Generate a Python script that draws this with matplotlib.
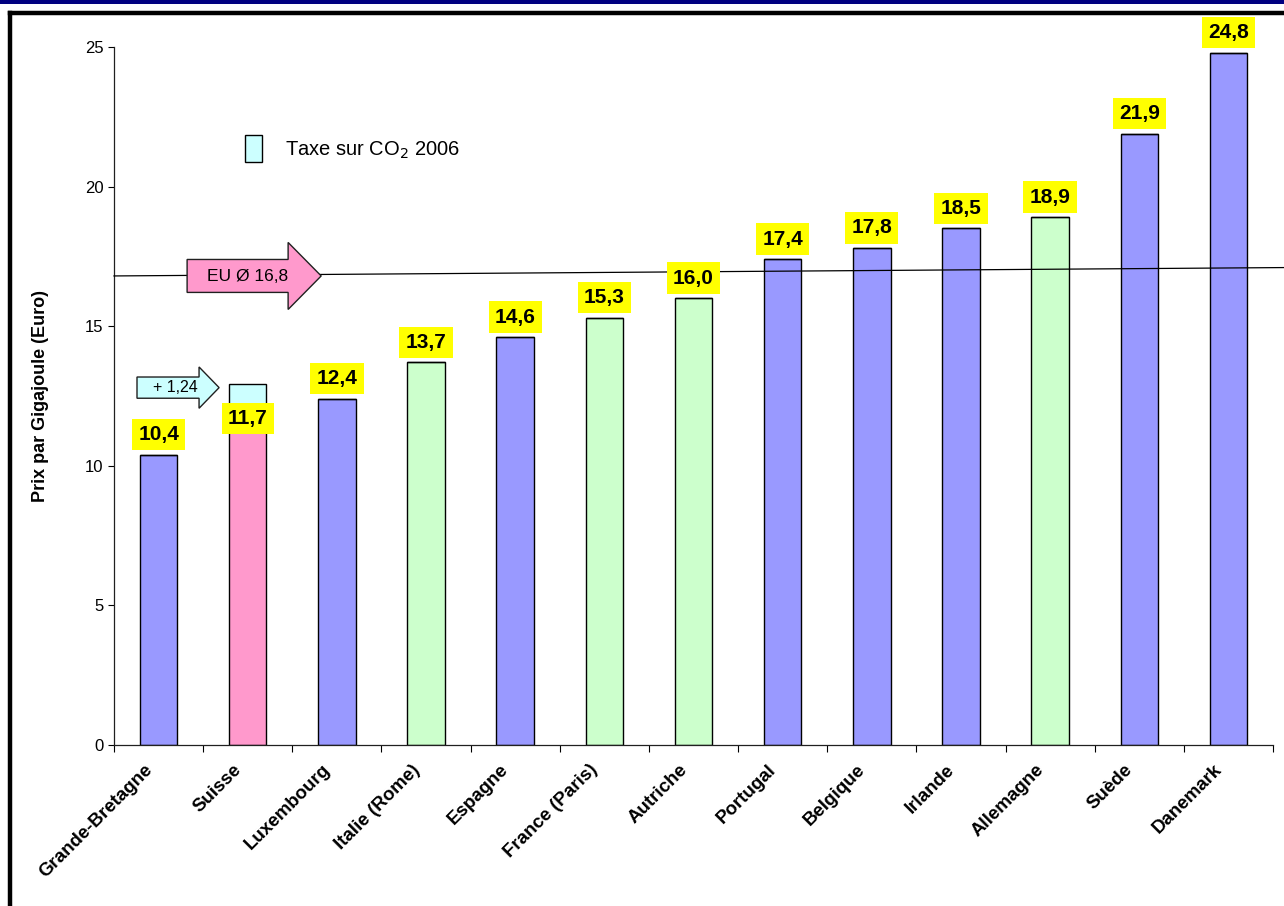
import matplotlib
matplotlib.use("Agg")
import matplotlib.pyplot as plt
from matplotlib.patches import Polygon, Rectangle
from matplotlib.transforms import ScaledTranslation
import numpy as np

plt.rcParams['font.family'] = ['Liberation Sans', 'DejaVu Sans']

# Prix du gaz naturel par pays (Euro par Gigajoule)
countries = ["Grande-Bretagne", "Suisse", "Luxembourg", "Italie (Rome)", "Espagne",
             "France (Paris)", "Autriche", "Portugal", "Belgique", "Irlande",
             "Allemagne", "Suède", "Danemark"]
prices = [10.4, 11.7, 12.4, 13.7, 14.6, 15.3, 16.0, 17.4, 17.8, 18.5, 18.9, 21.9, 24.8]
groups = ["blue", "pink", "blue", "green", "blue", "green", "green", "blue", "blue",
          "blue", "green", "blue", "blue"]
co2_tax = [0, 1.24, 0, 0, 0, 0, 0, 0, 0, 0, 0, 0, 0]
eu_mean = 16.8
eu_line = [16.8, 17.1]   # trend line from left to right edge
y_ticks = [0, 5, 10, 15, 20, 25]

palette = {"blue": "#9999FF", "pink": "#FF99CC", "green": "#CCFFCC"}
tax_color = "#CCFFFF"
label_bg = "#FFFF00"

fig = plt.figure(figsize=(12.84, 9.06), dpi=100)

# slide header band and frame
fig.patches.append(Rectangle((0, 1 - 4 / 906), 1, 4 / 906, transform=fig.transFigure,
                             facecolor="#000080", edgecolor="none", zorder=0))
fig.add_artist(plt.Line2D([10 / 1284, 10 / 1284], [0, 1 - 12.5 / 906], color="black",
                          lw=3.2, transform=fig.transFigure))
fig.add_artist(plt.Line2D([10 / 1284, 1], [1 - 12.5 / 906, 1 - 12.5 / 906], color="black",
                          lw=3.2, transform=fig.transFigure))

ax = fig.add_axes([114 / 1284, 1 - 745 / 906, (1273 - 114) / 1284, (745 - 47) / 906])
x = np.arange(len(countries))
colors = [palette[g] for g in groups]
bw = 0.42
ax.bar(x, prices, width=bw, color=colors, edgecolor="black", linewidth=1.0, zorder=2)
ax.bar(x, co2_tax, width=bw, bottom=prices, color=tax_color, edgecolor="black",
       linewidth=1.0, zorder=2)

ax.set_xlim(-0.5, len(countries) - 0.5)
ax.set_ylim(0, 25)
ax.set_yticks(y_ticks)
ax.set_yticklabels([str(t) for t in y_ticks], fontsize=12)
ax.tick_params(axis="y", length=4.5, width=0.8, pad=3, colors="black")
ax.set_xticks(x)
ax.set_xticklabels(countries, rotation=45, ha="right", va="center",
                   rotation_mode="anchor", fontsize=13.5, fontweight="bold")
ax.tick_params(axis="x", which="major", length=0, pad=16)
shift = ScaledTranslation(-9 / 100, 0, fig.dpi_scale_trans)
for lab in ax.get_xticklabels():
    lab.set_transform(lab.get_transform() + shift)
ax.set_xticks(np.arange(-0.5, len(countries)), minor=True)
ax.tick_params(axis="x", which="minor", length=5, width=0.8)
for s in ["top", "right"]:
    ax.spines[s].set_visible(False)
for s in ["left", "bottom"]:
    ax.spines[s].set_linewidth(0.9)
    ax.spines[s].set_color("#202020")
ax.set_ylabel("Prix par Gigajoule (Euro)", fontsize=13, fontweight="bold", labelpad=26)

# value labels
for xi, p, t in zip(x, prices, co2_tax):
    dy = 0 if t else 14.5
    ax.annotate(f"{p:.1f}".replace(".", ","), (xi, p), xytext=(0, dy),
                textcoords="offset points", ha="center", va="center",
                fontsize=15, fontweight="bold", zorder=5, annotation_clip=False,
                bbox=dict(boxstyle="square,pad=0.3", facecolor=label_bg, edgecolor="none"))

# EU average line
ax.plot([-0.5, 12.62], eu_line, color="black", lw=0.9, zorder=3, clip_on=False)


def block_arrow(x0, x1, xh, yc, body_h, head_h, fc):
    pts = [(x0, yc - body_h / 2), (xh, yc - body_h / 2), (xh, yc - head_h / 2),
           (x1, yc), (xh, yc + head_h / 2), (xh, yc + body_h / 2), (x0, yc + body_h / 2)]
    ax.add_patch(Polygon(pts, closed=True, facecolor=fc, edgecolor="#202020",
                         lw=1.0, zorder=4))


block_arrow(0.32, 1.824, 1.453, eu_mean, 1.18, 2.4, "#FF99CC")
ax.text(1.0, eu_mean - 0.02, "EU Ø " + f"{eu_mean:.1f}".replace(".", ","),
        ha="center", va="center", fontsize=12.5, zorder=5)

block_arrow(-0.242, 0.679, 0.454, 12.8, 0.76, 1.48, tax_color)
ax.text(0.19, 12.8, "+ " + f"{co2_tax[1]:.2f}".replace(".", ","),
        ha="center", va="center", fontsize=11.5, zorder=5)

# legend entry for the CO2 tax
ax.add_patch(Rectangle((0.97, 20.88), 0.19, 0.97, facecolor=tax_color, edgecolor="black",
                       lw=1.0, zorder=4))
ax.text(1.42, 21.3, r"Taxe sur CO$_2$ 2006", ha="left", va="center", fontsize=14.5,
        zorder=5)

fig.savefig("out.png", dpi=100)
